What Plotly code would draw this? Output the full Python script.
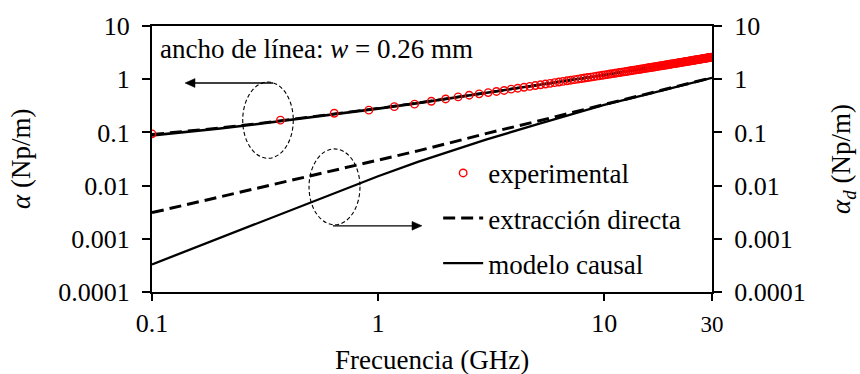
import plotly.graph_objects as go

# Measured sweep (GHz) and measured attenuation constant alpha (Np/m)
freq_meas = [
    0.10, 0.37, 0.64, 0.91, 1.18, 1.45, 1.72, 1.99, 2.26, 2.53, 2.80, 3.07,
    3.34, 3.61, 3.88, 4.15, 4.42, 4.69, 4.96, 5.23, 5.50, 5.77, 6.04, 6.31,
    6.58, 6.85, 7.12, 7.39, 7.66, 7.93, 8.20, 8.47, 8.74, 9.01, 9.28, 9.55,
    9.82, 10.09, 10.36, 10.63, 10.90, 11.17, 11.44, 11.71, 11.98, 12.25, 12.52, 12.79,
    13.06, 13.33, 13.60, 13.87, 14.14, 14.41, 14.68, 14.95, 15.22, 15.49, 15.76, 16.03,
    16.30, 16.57, 16.84, 17.11, 17.38, 17.65, 17.92, 18.19, 18.46, 18.73, 19.00, 19.27,
    19.54, 19.81, 20.08, 20.35, 20.62, 20.89, 21.16, 21.43, 21.70, 21.97, 22.24, 22.51,
    22.78, 23.05, 23.32, 23.59, 23.86, 24.13, 24.40, 24.67, 24.94, 25.21, 25.48, 25.75,
    26.02, 26.29, 26.56, 26.83, 27.10, 27.37, 27.64, 27.91, 28.18, 28.45, 28.72, 28.99,
    29.26, 29.53, 29.80,
]
alpha_meas = [
    0.094, 0.170, 0.229, 0.262, 0.305, 0.340, 0.385, 0.425, 0.465, 0.500, 0.530, 0.560,
    0.588, 0.615, 0.650, 0.678, 0.705, 0.732, 0.759, 0.785, 0.810, 0.836, 0.861, 0.885,
    0.910, 0.934, 0.958, 0.981, 1.005, 1.028, 1.051, 1.074, 1.096, 1.119, 1.141, 1.163,
    1.185, 1.207, 1.229, 1.250, 1.271, 1.293, 1.314, 1.335, 1.356, 1.376, 1.397, 1.418,
    1.438, 1.459, 1.479, 1.499, 1.519, 1.539, 1.559, 1.579, 1.599, 1.619, 1.638, 1.658,
    1.677, 1.697, 1.716, 1.735, 1.755, 1.774, 1.793, 1.812, 1.831, 1.850, 1.869, 1.888,
    1.906, 1.925, 1.944, 1.962, 1.981, 2.000, 2.018, 2.036, 2.055, 2.073, 2.091, 2.110,
    2.128, 2.146, 2.164, 2.182, 2.200, 2.218, 2.236, 2.254, 2.272, 2.290, 2.308, 2.325,
    2.343, 2.361, 2.379, 2.396, 2.414, 2.432, 2.449, 2.467, 2.484, 2.502, 2.519, 2.536,
    2.554, 2.571, 2.588,
]

# Frequency grid (GHz) of the extracted / modelled curves
freq_model = [0.1, 0.2, 0.3, 0.5, 0.7, 1, 1.5, 2, 3, 5, 7, 10, 15, 20, 25, 30]

# Total attenuation alpha (left axis)
alpha_direct = [0.092, 0.122, 0.149, 0.194, 0.232, 0.284, 0.358, 0.428, 0.552, 0.767,
                0.950, 1.20, 1.58, 1.94, 2.27, 2.60]
alpha_causal = [0.088, 0.118, 0.145, 0.190, 0.228, 0.280, 0.355, 0.425, 0.550, 0.765,
                0.948, 1.20, 1.58, 1.94, 2.27, 2.60]

# Dielectric attenuation alpha_d (right axis)
alpha_d_direct = [0.0031, 0.0061, 0.0091, 0.0150, 0.0210, 0.0300, 0.0450, 0.0610, 0.095,
                  0.160, 0.228, 0.335, 0.51, 0.69, 0.88, 1.07]
alpha_d_causal = [0.00033, 0.00104, 0.0020, 0.0047, 0.0082, 0.0150, 0.0280, 0.042, 0.073,
                  0.140, 0.215, 0.33, 0.50, 0.68, 0.87, 1.06]

y_ticks = [0.0001, 0.001, 0.01, 0.1, 1, 10]
y_ticktext = ["0.0001", "0.001", "0.01", "0.1", "1", "10"]
x_ticks = [0.1, 1, 10, 30]
x_ticktext = ["0.1", "1", "10", "<span style='font-size:23px'>30</span>"]

FONT = "Liberation Serif, Times New Roman, serif"
DASH = "12px,6px"

fig = go.Figure()

fig.add_trace(go.Scatter(x=freq_model, y=alpha_direct, mode="lines",
                         line=dict(color="black", width=2.6, dash=DASH),
                         legendgroup="d", showlegend=False))
fig.add_trace(go.Scatter(x=freq_model, y=alpha_causal, mode="lines",
                         line=dict(color="black", width=2.6),
                         legendgroup="c", showlegend=False))
fig.add_trace(go.Scatter(x=freq_model, y=alpha_d_direct, mode="lines", yaxis="y2",
                         name="extracción directa",
                         line=dict(color="black", width=3, dash=DASH),
                         legendgroup="d", legendrank=2))
fig.add_trace(go.Scatter(x=freq_model, y=alpha_d_causal, mode="lines", yaxis="y2",
                         name="modelo causal",
                         line=dict(color="black", width=2.3),
                         legendgroup="c", legendrank=3))
fig.add_trace(go.Scatter(x=freq_meas, y=alpha_meas, mode="markers",
                         name="experimental",
                         marker=dict(symbol="circle-open", size=7.5, color="red",
                                     line=dict(color="red", width=1.4)),
                         legendgroup="e", legendrank=1))

axis_common = dict(
    type="log", showgrid=False, zeroline=False,
    showline=True, linecolor="black", linewidth=2,
    ticks="outside", tickcolor="black", tickwidth=2,
    tickfont=dict(family=FONT, size=26, color="black"),
)

fig.update_layout(
    width=860, height=374,
    margin=dict(l=152, r=148, t=20, b=82),
    paper_bgcolor="white", plot_bgcolor="white",
    font=dict(family=FONT, size=27, color="black"),
    xaxis=dict(axis_common, range=[-1, 1.4771], tickvals=x_ticks, ticktext=x_ticktext,
               ticklen=7, mirror=True),
    yaxis=dict(axis_common, range=[-4, 1], tickvals=y_ticks, ticktext=y_ticktext,
               ticklen=8, ticklabelstandoff=7),
    yaxis2=dict(axis_common, range=[-4, 1], tickvals=y_ticks, ticktext=y_ticktext,
                ticklen=8, ticklabelstandoff=7, overlaying="y", side="right"),
    legend=dict(x=0.511, y=0.538, xanchor="left", yanchor="top",
                bgcolor="rgba(0,0,0,0)", traceorder="grouped", tracegroupgap=7,
                itemwidth=40, font=dict(family=FONT, size=27, color="black")),
    showlegend=True,
)

# Axis titles and labels
fig.add_annotation(text="Frecuencia (GHz)", xref="paper", yref="paper",
                   x=0.5, y=-0.254, xanchor="center", yanchor="middle",
                   showarrow=False, font=dict(size=27))
fig.add_annotation(text="<i>α</i> (Np/m)", xref="paper", yref="paper",
                   x=-0.2339, y=0.5, xanchor="center", yanchor="middle",
                   textangle=-90, showarrow=False, font=dict(size=27))
fig.add_annotation(text="<i>α</i><sub><i>d</i></sub> (Np/m)", xref="paper", yref="paper",
                   x=1.2339, y=0.5, xanchor="center", yanchor="middle",
                   textangle=-90, showarrow=False, font=dict(size=27))
fig.add_annotation(text="ancho de línea: <i>w</i> = 0.26 mm", xref="paper", yref="paper",
                   x=0.0107, y=0.913, xanchor="left", yanchor="middle",
                   showarrow=False, font=dict(size=27))

# Arrows pointing to the axis each pair of curves belongs to
arrow_line = dict(type="line", xref="paper", yref="paper",
                  line=dict(color="black", width=1.3))
arrow_head = dict(type="path", xref="paper", yref="paper", fillcolor="black",
                  line=dict(color="black", width=0.5))
hw = 0.0165
fig.add_shape(arrow_line, x0=0.2161, x1=0.0768, y0=0.7857, y1=0.7857)
fig.add_shape(arrow_head, path=f"M 0.0589 0.7857 L 0.0768 {0.7857 + hw} L 0.0768 {0.7857 - hw} Z")
fig.add_shape(arrow_line, x0=0.3232, x1=0.4643, y0=0.2489, y1=0.2489)
fig.add_shape(arrow_head, path=f"M 0.4821 0.2489 L 0.4643 {0.2489 + hw} L 0.4643 {0.2489 - hw} Z")

# Ellipses grouping each pair of curves
ell = dict(type="circle", xref="paper", yref="paper",
           line=dict(color="black", width=1.1, dash="4px,2.5px"))
fig.add_shape(ell, x0=0.1620, x1=0.2523, y0=0.5026, y1=0.7893)
fig.add_shape(ell, x0=0.2804, x1=0.3714, y0=0.2526, y1=0.5379)

fig.write_html("out.html")
